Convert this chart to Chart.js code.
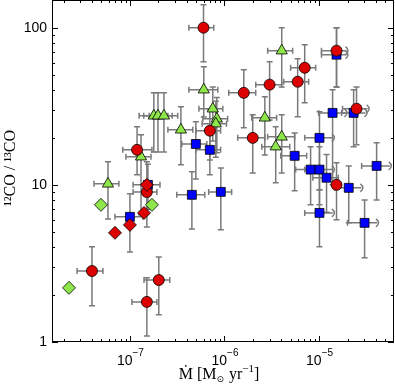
<!DOCTYPE html>
<html>
<head>
<meta charset="utf-8">
<script src="https://cdn.jsdelivr.net/npm/chart.js@4.4.0/dist/chart.umd.min.js"></script>
<style>
  html, body { margin: 0; padding: 0; background: #fff; }
  #wrap { width: 395px; height: 389px; }
</style>
</head>
<body>
<div id="wrap"><canvas id="myChart" width="395" height="389"></canvas></div>
<script>
// each row: [x, y, xLow, xHigh, yLow, yHigh, lowerLimit]
var circles = [
  [1.19e-7, 16.7, 8.4e-8, 1.71e-7, 11.6, 23.4, 0],
  [1.51e-7, 9.0, 1.08e-7, 1.93e-7, 5.4, 14, 0],
  [3.97e-8, 2.83, 2.76e-8, 5.19e-8, 1.70, 4.03, 0],
  [1.51e-7, 1.80, 1.05e-7, 1.93e-7, 1.09, 2.56, 0],
  [2.02e-7, 2.48, 1.41e-7, 2.64e-7, 1.49, 3.48, 0],
  [6.0e-7, 100, 4.2e-7, 7.7e-7, 60.7, 140, 0],
  [7.0e-7, 22.1, 4.98e-7, 9.1e-7, 14.4, 30, 0],
  [1.6e-6, 38.5, 1.11e-6, 2.14e-6, 23.1, 54, 0],
  [1.99e-6, 19.9, 1.38e-6, 2.67e-6, 11.9, 27.9, 0],
  [3.0e-6, 43.4, 2.14e-6, 4.03e-6, 25.9, 60.7, 0],
  [5.94e-6, 45.3, 4.23e-6, 7.76e-6, 27.1, 63.5, 0],
  [7.05e-6, 55.6, 5.0e-6, 9.2e-6, 33.3, 78, 0],
  [1.53e-5, 71.4, 1.06e-5, 1.95e-5, 42, 100, 1],
  [2.49e-5, 30.5, 1.77e-5, 3.26e-5, 18, 42, 1],
  [1.53e-5, 10.0, null, null, 6.0, 13.8, 0]
];
var triangles = [
  [5.86e-8, 10.15, 4.17e-8, 7.65e-8, 6.07, 14, 0],
  [1.31e-7, 15.1, 9.08e-8, 1.67e-7, 6.44, 20.8, 0],
  [1.79e-7, 27.5, 1.25e-7, 2.52e-7, 16.2, 38.5, 0],
  [1.98e-7, 27.5, 1.4e-7, 2.8e-7, 16.2, 38.5, 0],
  [2.29e-7, 27.5, 1.6e-7, 3.2e-7, 16.2, 38.5, 0],
  [3.46e-7, 22.4, 2.52e-7, 4.62e-7, 13.4, 31.4, 0],
  [6.04e-7, 40.3, 4.2e-7, 8.5e-7, 27, 56.5, 0],
  [7.52e-7, 30.5, 5.36e-7, 9.6e-7, 19, 42, 0],
  [8.3e-7, 26.3, 5.9e-7, 1.08e-6, 16, 36, 0],
  [8.1e-7, 24.5, 5.8e-7, 1.05e-6, 15, 34, 0],
  [4.03e-6, 71.4, 2.86e-6, 5.26e-6, 42, 100, 0],
  [2.67e-6, 26.7, 1.94e-6, 3.56e-6, 15.5, 36.4, 0],
  [4.03e-6, 20.2, 2.86e-6, 5.52e-6, 11.9, 27.9, 0],
  [3.48e-6, 17.5, 2.48e-6, 4.9e-6, 10.3, 23.4, 0]
];
var squares = [
  [1.0e-7, 6.26, 6.95e-8, 1.37e-7, 3.74, 8.77, 0],
  [1.55e-7, 10.0, 1.08e-7, 2.08e-7, 7.0, 13.5, 0],
  [4.52e-7, 8.64, 3.13e-7, 6.19e-7, 5.24, 12.1, 0],
  [4.98e-7, 18.2, 3.54e-7, 6.5e-7, 10.9, 25.2, 0],
  [7.0e-7, 16.7, 4.98e-7, 9.1e-7, 11.6, 21.4, 0],
  [9.15e-7, 9.02, 6.8e-7, 1.19e-6, 5.17, 12.8, 0],
  [1.53e-5, 67.3, 1.06e-5, 1.95e-5, 42, 100, 1],
  [1.01e-5, 19.9, 7.05e-6, 1.4e-5, 9.3, 29.2, 1],
  [1.39e-5, 28.7, 9.9e-6, 1.9e-5, 10, 40.3, 1],
  [2.32e-5, 28.7, 1.73e-5, 3.1e-5, 17.5, 40.3, 1],
  [5.52e-6, 15.3, 3.93e-6, 7.4e-6, 9.16, 21.4, 0],
  [8.14e-6, 12.5, 5.66e-6, 1.01e-5, 7.46, 17.5, 0],
  [1.01e-5, 12.5, 7.05e-6, 1.4e-5, 7.46, 17.5, 1],
  [1.2e-5, 11.1, 8.6e-6, 1.6e-5, 6.7, 15.6, 0],
  [2.06e-5, 9.57, 1.46e-5, 2.8e-5, 5.73, 13.2, 1],
  [1.01e-5, 6.63, 7.05e-6, 1.4e-5, 4.03, 9.3, 1],
  [3.03e-5, 5.73, 2.0e-5, 4.1e-5, 3.43, 8.02, 1],
  [4.06e-5, 13.2, 2.82e-5, 5.6e-5, 8.02, 18.5, 1]
];
var redDiamonds = [[1.51e-7, 10.0], [1.41e-7, 6.63], [1.0e-7, 5.56], [6.95e-8, 4.95]];
var greenDiamonds = [[4.94e-8, 7.46], [1.71e-7, 7.46], [2.27e-8, 2.21]];

var xRange = [1.5e-8, 6.2e-5];
var yRange = [1, 150];
var xTickExps = [-7, -6, -5];
var yTickLabels = {"0": "1", "1": "10", "2": "100"};

function toPoints(rows) {
  return rows.map(function (r) {
    return {x: r[0], y: r[1], xl: r[2], xh: r[3], yl: r[4], yh: r[5], lim: r[6]};
  });
}

function decade(v) {
  var l = Math.log10(v);
  return Math.abs(l - Math.round(l)) < 1e-6 ? String(Math.round(l)) : null;
}

// error bars under the markers
var errorBars = {
  id: "errorBars",
  beforeDatasetsDraw: function (chart) {
    var ctx = chart.ctx, xs = chart.scales.x, ys = chart.scales.y;
    ctx.save();
    ctx.strokeStyle = "#7a7a7a";
    ctx.lineWidth = 1.5;
    chart.data.datasets.forEach(function (ds) {
      ds.data.forEach(function (p) {
        var px = xs.getPixelForValue(p.x), py = ys.getPixelForValue(p.y);
        var cap = 3;
        ctx.beginPath();
        if (p.xl != null) {
          var a = xs.getPixelForValue(p.xl), b = xs.getPixelForValue(p.xh);
          ctx.moveTo(a, py); ctx.lineTo(b, py);
          ctx.moveTo(a, py - cap); ctx.lineTo(a, py + cap);
          if (p.lim) {
            ctx.moveTo(b - 1, py - cap - 1);
            ctx.quadraticCurveTo(b + 4, py, b - 1, py + cap + 1);
          } else {
            ctx.moveTo(b, py - cap); ctx.lineTo(b, py + cap);
          }
        }
        if (p.yl != null) {
          var c = ys.getPixelForValue(p.yl), d = ys.getPixelForValue(p.yh);
          ctx.moveTo(px, c); ctx.lineTo(px, d);
          ctx.moveTo(px - cap, c); ctx.lineTo(px + cap, c);
          ctx.moveTo(px - cap, d); ctx.lineTo(px + cap, d);
        }
        ctx.stroke();
      });
    });
    ctx.restore();
  }
};

// frame with inward ticks, the 10^n labels and both axis titles
var frame = {
  id: "frame",
  afterDraw: function (chart) {
    var ctx = chart.ctx, a = chart.chartArea, xs = chart.scales.x, ys = chart.scales.y;
    ctx.save();
    ctx.strokeStyle = "#000";
    ctx.lineWidth = 1;
    ctx.strokeRect(a.left + 0.5, a.top + 0.5, a.right - a.left - 1, a.bottom - a.top - 1);
    ctx.beginPath();
    for (var e = -9; e <= -3; e++) {
      for (var m = 1; m <= 9; m++) {
        var v = m * Math.pow(10, e);
        if (v < xRange[0] || v > xRange[1]) continue;
        var px = Math.round(xs.getPixelForValue(v)) + 0.5, len = m === 1 ? 6 : 3;
        ctx.moveTo(px, a.bottom); ctx.lineTo(px, a.bottom - len);
        ctx.moveTo(px, a.top); ctx.lineTo(px, a.top + len);
      }
    }
    for (var e2 = 0; e2 <= 2; e2++) {
      for (var n = 1; n <= 9; n++) {
        var w = n * Math.pow(10, e2);
        if (w < yRange[0] || w > yRange[1]) continue;
        var py = Math.round(ys.getPixelForValue(w)) + 0.5, l2 = n === 1 ? 6 : 3;
        ctx.moveTo(a.left, py); ctx.lineTo(a.left + l2, py);
        ctx.moveTo(a.right, py); ctx.lineTo(a.right - l2, py);
      }
    }
    ctx.stroke();

    ctx.fillStyle = "#000";
    ctx.textBaseline = "alphabetic";
    ctx.textAlign = "left";
    var sans14 = "14px 'Liberation Sans'", sans10 = "10px 'Liberation Sans'";
    xTickExps.forEach(function (k) {
      var cx = xs.getPixelForValue(Math.pow(10, k));
      var base = "10", sup = "\u2212" + Math.abs(k);
      ctx.font = sans14;
      var wb = ctx.measureText(base).width;
      ctx.font = sans10;
      var ws = ctx.measureText(sup).width;
      var left = cx - (wb + ws) / 2 + 0.5;
      ctx.font = sans14;
      ctx.fillText(base, left, a.bottom + 23);
      ctx.font = sans10;
      ctx.fillText(sup, left + wb, a.bottom + 14);
    });

    // x title: Mdot [M_sun yr^-1]
    var serif16 = "16px 'Liberation Serif'", serif9 = "9px 'DejaVu Sans'", serif11 = "11px 'Liberation Serif'";
    var parts = [
      ["\u1E40 [M", serif16, 0],
      ["\u2299", serif9, 3],
      [" yr", serif16, 0],
      ["\u2212" + "1", serif11, -7],
      ["]", serif16, 0]
    ];
    var total = 0;
    parts.forEach(function (p) { ctx.font = p[1]; total += ctx.measureText(p[0]).width + (p[1] === serif9 ? 1 : 0); });
    var tx = 219 - total / 2, ty = a.bottom + 37;
    parts.forEach(function (p) {
      ctx.font = p[1];
      ctx.fillText(p[0], tx, ty + p[2]);
      tx += ctx.measureText(p[0]).width + (p[1] === serif9 ? 1 : 0);
    });

    // y title
    ctx.save();
    ctx.translate(15, (a.top + a.bottom) / 2 - 3);
    ctx.rotate(-Math.PI / 2);
    ctx.textAlign = "center";
    ctx.font = serif16;
    ctx.fillText("\u00B9\u00B2CO / \u00B9\u00B3CO", 0, 0);
    ctx.restore();
    ctx.restore();
  }
};

function series(rows, style, color, r) {
  return {
    data: rows,
    pointStyle: style,
    pointRadius: r,
    pointHoverRadius: r,
    backgroundColor: color,
    borderColor: "#000",
    borderWidth: 0.8,
    showLine: false
  };
}

// first dataset ends up on top
var mychart = new Chart("myChart", {
  type: "scatter",
  data: {
    datasets: [
      series(redDiamonds.map(function (r) { return {x: r[0], y: r[1]}; }), "rectRot", "#dd0000", 6.5),
      series(toPoints(circles), "circle", "#dd0000", 5.5),
      series(greenDiamonds.map(function (r) { return {x: r[0], y: r[1]}; }), "rectRot", "#8ee64a", 6.5),
      series(toPoints(squares), "rect", "#0000ff", 6.3),
      series(toPoints(triangles), "triangle", "#8ee64a", 6.5)
    ]
  },
  options: {
    responsive: false,
    animation: false,
    events: [],
    layout: {padding: {top: 0, right: 1, left: 0, bottom: 0}, autoPadding: false},
    plugins: {legend: {display: false}, tooltip: {enabled: false}},
    scales: {
      x: {
        type: "logarithmic",
        min: xRange[0], max: xRange[1],
        grid: {display: false, drawTicks: false},
        border: {display: false},
        ticks: {display: false},
        afterFit: function (s) { s.height = 47; s.paddingLeft = 0; s.paddingRight = 0; }
      },
      y: {
        type: "logarithmic",
        min: yRange[0], max: yRange[1],
        grid: {display: false, drawTicks: false},
        border: {display: false},
        ticks: {
          autoSkip: false, padding: 5, color: "#000",
          font: {family: "Liberation Sans", size: 14},
          callback: function (v) { var d = decade(v); return d && yTickLabels[d] ? yTickLabels[d] : null; }
        },
        afterFit: function (s) { s.width = 52; s.paddingTop = 0; s.paddingBottom = 0; }
      }
    }
  },
  plugins: [errorBars, frame]
});
</script>
</body>
</html>
